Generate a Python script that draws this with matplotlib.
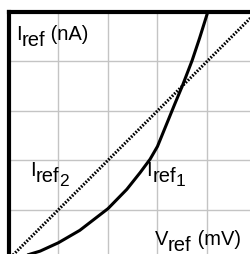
import matplotlib.pyplot as plt

plt.rcParams['font.family'] = ['Liberation Sans', 'DejaVu Sans']

# (grid units)
iref1_x = [0.0, 0.3, 0.63, 1.0, 1.43, 2.0, 2.38, 2.65, 2.85, 3.0, 3.22, 3.35, 3.5, 3.7, 3.85, 4.0, 4.1]
iref1_y = [0.0, 0.06, 0.16, 0.33, 0.58, 1.02, 1.41, 1.75, 2.02, 2.28, 2.82, 3.14, 3.5, 4.02, 4.47, 4.95, 5.3]
iref2_x = [0.0, 5.0]
iref2_y = [0.0, 5.0]
ticks = [0, 1, 2, 3, 4, 5]

DPI = 100
fig = plt.figure(figsize=(2.51, 2.55), dpi=DPI)
ax = fig.add_axes([9 / 251, -5 / 255, 247.5 / 251, 247 / 255])

ax.plot(iref1_x, iref1_y, color='black', lw=2.2, solid_capstyle='butt')
ax.plot(iref2_x, iref2_y, color='black', lw=2.2, dashes=(0.55, 0.5))

ax.set_xlim(0, 5)
ax.set_ylim(0, 5)
ax.set_xticks(ticks)
ax.set_yticks(ticks)
ax.grid(True, color='#c4c4c4', lw=1)
ax.set_axisbelow(True)
ax.tick_params(length=0, labelbottom=False, labelleft=False)
for side in ['right', 'bottom']:
    ax.spines[side].set_visible(False)
for side in ['left', 'top']:
    ax.spines[side].set_linewidth(3)

renderer = fig.canvas.get_renderer()


def label(x, y, pieces):
    # pieces: (text, fontsize, baseline drop in points)
    dx = 0
    for s, size, drop in pieces:
        t = ax.annotate(s, xy=(x, y), xytext=(dx, -drop), textcoords='offset points',
                        fontsize=size, va='baseline', ha='left')
        dx += t.get_window_extent(renderer).width * 72 / DPI


main, sub, subsub = 14.5, 14.5, 12.5
label(0.14, 4.46, [('I', main, 0), ('ref', sub, 4.3), (' (nA)', main, 0)])
label(0.42, 1.70, [('I', main, 0), ('ref', sub, 4.3), ('2', subsub, 7)])
label(2.78, 1.70, [('I', main, 0), ('ref', sub, 4.3), ('1', subsub, 7)])
label(2.94, 0.30, [('V', main, 0), ('ref', sub, 4.3), (' (mV)', main, 0)])

fig.savefig('out.png', dpi=DPI)
